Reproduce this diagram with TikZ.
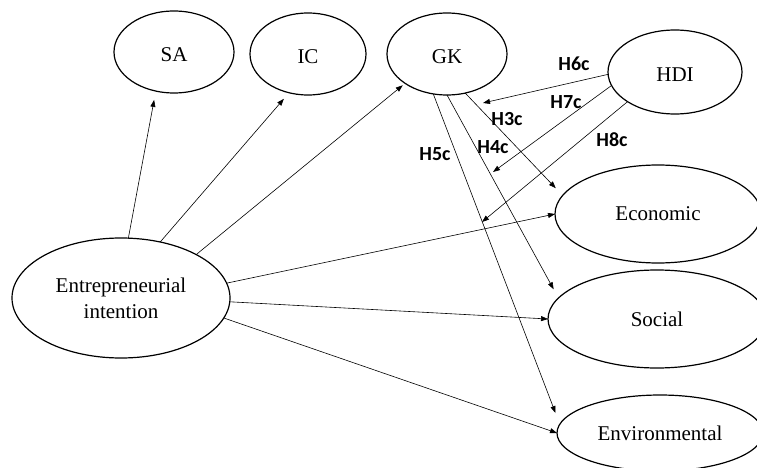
\documentclass[tikz,border=0pt]{standalone}
\usepackage{fontspec}
\setmainfont{Liberation Serif}
\newfontfamily\labfont{Carlito}
\usetikzlibrary{shapes.geometric,arrows.meta}
\begin{document}
\begin{tikzpicture}[x=1pt,y=-1pt,
  oval/.style={ellipse,draw,line width=1.2pt,outer sep=0pt,inner sep=0pt,
    font=\fontsize{21}{26}\selectfont,align=center},
  lowtext/.style={text height=20pt,text depth=0pt},
  arr/.style={line width=0.6pt,-{Triangle[length=7pt,width=5pt]}},
  lab/.style={font=\labfont\bfseries\fontsize{20}{22}\selectfont,inner sep=0pt}]
\useasboundingbox (0,0) rectangle (757,468);
\fill[white] (0,0) rectangle (757,468);
% nodes
\node[oval,lowtext,minimum width=120pt,minimum height=82pt] (sa) at (174,52) {SA};
\node[oval,lowtext,minimum width=116pt,minimum height=82pt] (ic) at (308,54) {IC};
\node[oval,lowtext,minimum width=120pt,minimum height=82pt] (gk) at (447,54) {GK};
\node[oval,lowtext,minimum width=134pt,minimum height=84pt] (hdi) at (675,72) {HDI};
\node[oval,minimum width=218pt,minimum height=120pt] (ei) at (121,298) {Entrepreneurial\\intention};
\node[oval,minimum width=206pt,minimum height=98pt] (econ) at (658,214) {Economic};
\node[oval,minimum width=218pt,minimum height=98pt] (soc) at (657,319) {Social};
\node[oval,minimum width=206pt,minimum height=76pt] (env) at (660,433) {Environmental};
% free ends of HDI arrows
\coordinate (h6) at (483,103);
\coordinate (h7) at (493,172);
\coordinate (h8) at (482,222);
% connectors
\draw[arr,shorten >=9pt] (ei.83) -- (sa.245);
\draw[arr,shorten >=8pt] (ei.55) -- (ic.244);
\draw[arr,shorten >=3pt] (ei.30) -- (gk.215);
\draw[arr] (ei.8) -- (econ.180);
\draw[arr] (ei.-2) -- (soc.180);
\draw[arr] (ei.-11) -- (env.180);
\draw[arr,shorten >=10pt] (gk.295) -- (econ.169);
\draw[arr,shorten >=10pt] (gk.270) -- (soc.168);
\draw[arr,shorten >=12pt] (gk.251) -- (env.175);
\draw[arr] (hdi.182) -- (h6);
\draw[arr] (hdi.192) -- (h7);
\draw[arr] (hdi.212) -- (h8);
% labels
\node[lab] (l6) at (574,63.5) {H6c};
\node[lab] (l7) at (566,102) {H7c};
\node[lab] (l3) at (507,119) {H3c};
\node[lab] (l4) at (493,147) {H4c};
\node[lab] (l5) at (435,154) {H5c};
\node[lab] (l8) at (612,140) {H8c};
\end{tikzpicture}
\end{document}
